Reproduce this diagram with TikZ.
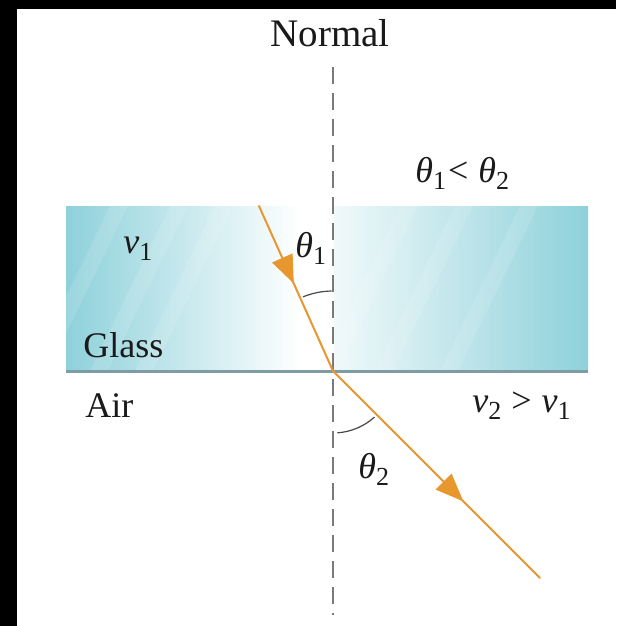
\documentclass[tikz,border=0pt]{standalone}
\usepackage{fontspec}
\setmainfont{Liberation Serif}
\usetikzlibrary{arrows.meta,decorations.markings}
\definecolor{orangeray}{HTML}{E8972F}
\definecolor{glassteal}{HTML}{8ED1DB}
\definecolor{glasslight}{HTML}{F0F9FA}
\definecolor{glassedge}{HTML}{7E9CA2}
\definecolor{normalgray}{HTML}{7A7A7A}
\definecolor{txt}{HTML}{1A1A1A}
\newcommand\lsub[1]{\raisebox{-0.45ex}{\fontsize{13}{13}\selectfont #1}}
\newcommand\ith{{\itshape θ}}
\newcommand\itv{{\itshape v}}
\begin{document}
\begin{tikzpicture}[x=0.5pt,y=-0.5pt,
  lbl/.style={inner sep=0pt, text=txt, font=\rmfamily\fontsize{18}{20}\selectfont},
  raypath/.style={draw=orangeray, line width=1pt, line cap=round},
  headat/.style={postaction={decorate},
    decoration={markings, mark=at position #1 with {\arrow{Triangle[length=14pt,width=11pt]}}}},
  normalline/.style={draw=normalgray, line width=1pt, dash pattern=on 8.5pt off 4.5pt},
  anglearc/.style={draw=txt!80, line width=0.6pt},
  streak/.style={fill=white, opacity=0.12}]
\useasboundingbox (0,0) rectangle (616,626);
\fill[white] (0,0) rectangle (616,626);
\fill[black] (0,0) rectangle (17,626);
\fill[black] (0,0) rectangle (616,9);
% glass block
\shade[left color=glassteal, right color=white] (66,206) rectangle (300,371);
\fill[white] (300,206) rectangle (334,371);
\shade[left color=glasslight, right color=glassteal] (334,206) rectangle (588,371);
\begin{scope}
  \clip (66,206) rectangle (588,371);
  \foreach \s in {110,170,215,400,455,520} {
    \fill[streak] (\s-80,371) -- (\s-62,371) -- (\s+18,206) -- (\s,206) -- cycle;
  }
\end{scope}
\coordinate (gl) at (66,371);
\coordinate (gr) at (588,371);
\draw[glassedge, line width=1.5pt] (gl) -- (gr);
% normal
\node[lbl, anchor=base] (normal) at (330,47) {\fontsize{19.5}{20}\selectfont Normal};
\coordinate (ntop) at (333,67);
\coordinate (nbot) at (333,615);
\draw[normalline] (ntop) -- (nbot);
% rays
\coordinate (O) at (333,371);
\coordinate (rin) at (259,206);
\coordinate (rout) at (540,578);
\draw[raypath, headat=0.47] (rin) -- (O);
\draw[raypath, headat=0.63] (O) -- (rout);
% angle arcs
\draw[anglearc] (O) ++(-112:80) arc[start angle=-112, end angle=-91, radius=80];
\draw[anglearc] (O) ++(48:62) arc[start angle=48, end angle=86, radius=62];
% labels
\node[lbl, anchor=base west] (th1) at (295,257) {\ith\lsub{1}};
\node[lbl, anchor=base west] (th2) at (358,478) {\ith\lsub{2}};
\node[lbl, anchor=base west] (cmp) at (415,182) {\ith\lsub{1}\kern1pt<\kern5pt\ith\lsub{2}};
\node[lbl, anchor=base west] (v1) at (123,253) {\itv\lsub{1}};
\node[lbl, anchor=base west] (glass) at (83,357) {Glass};
\node[lbl, anchor=base west] (air) at (85,417) {Air};
\node[lbl, anchor=base west] (v2) at (472,412) {\itv\lsub{2}\kern5pt>\kern5pt\itv\lsub{1}};
\end{tikzpicture}
\end{document}
